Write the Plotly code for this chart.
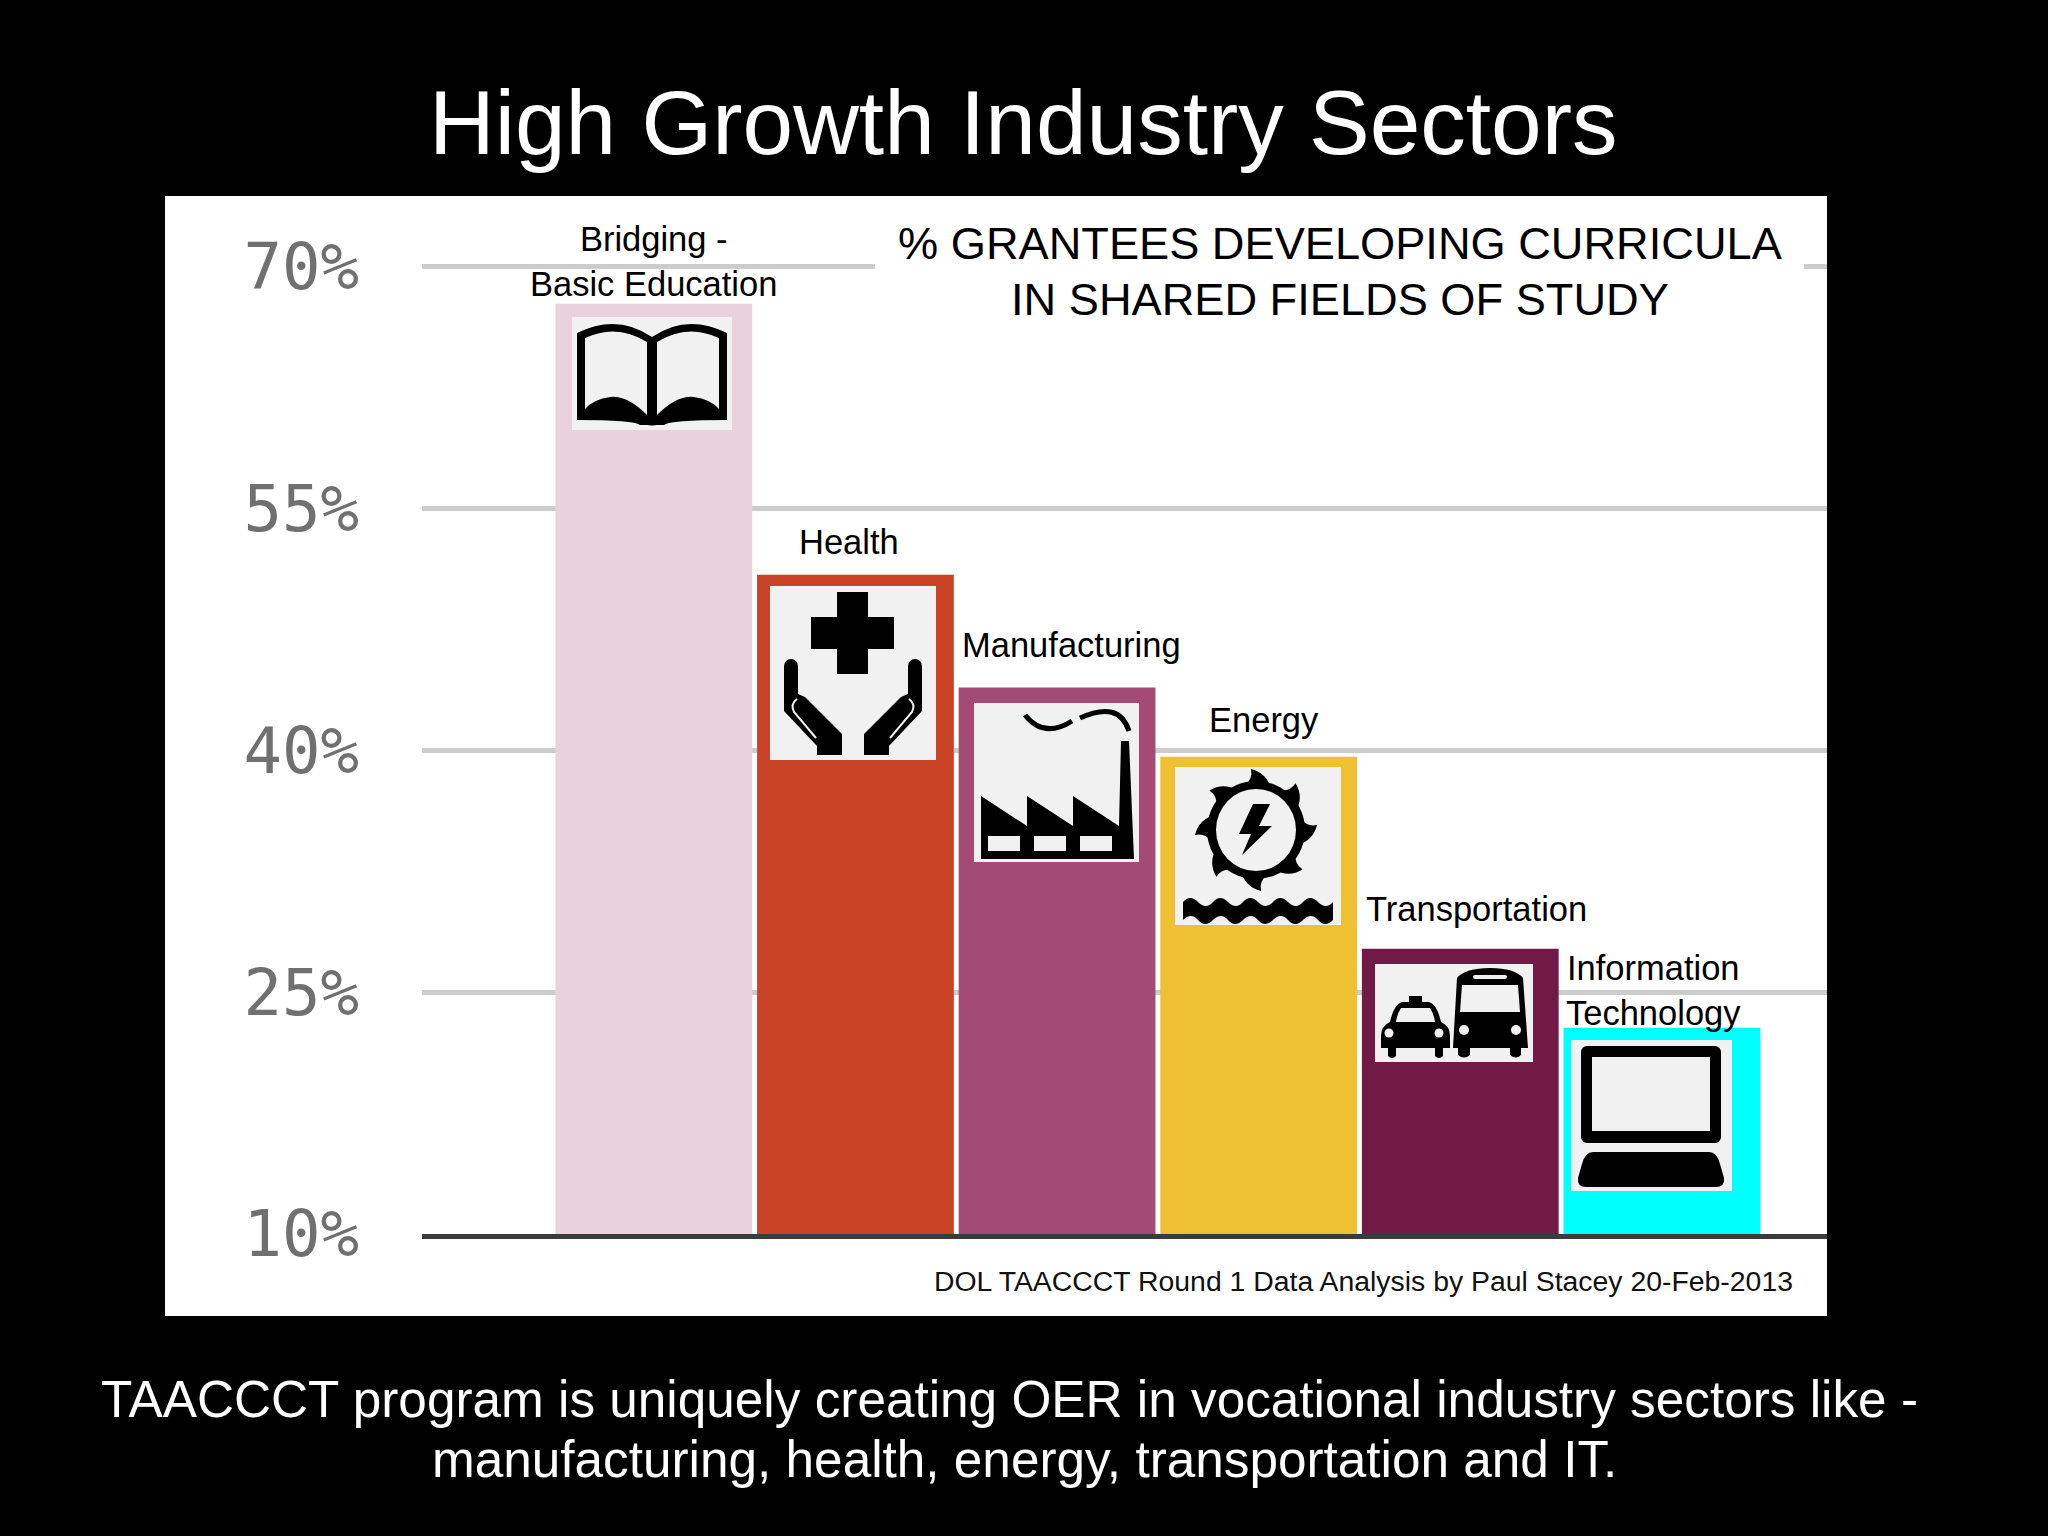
import base64
import plotly.graph_objects as go

# chart data
categories = ["Bridging - Basic Education", "Health", "Manufacturing", "Energy", "Transportation", "Information Technology"]
label_text = ["Bridging -<br>Basic Education", "Health", "Manufacturing", "Energy", "Transportation", "Information<br>Technology"]
percent_values = [67.7, 50.9, 43.9, 39.6, 27.7, 22.8]
tick_values = [10, 25, 40, 55, 70]
tick_labels = ["10%", "25%", "40%", "55%", "70%"]

title_text = "High Growth Industry Sectors"
chart_title = ["% GRANTEES DEVELOPING CURRICULA", "IN SHARED FIELDS OF STUDY"]
source_text = "DOL TAACCCT Round 1 Data Analysis by Paul Stacey 20-Feb-2013"
caption_text = ["TAACCCT program is uniquely creating OER in vocational industry sectors like -", "manufacturing, health, energy, transportation and IT."]

# styling
bar_colors = ["#E9D2DB", "#CB4327", "#A34A75", "#EFC032", "#721A46", "#00FFFF"]
label_dx = [0, -6, 14, 5, 16, -8]
label_dy = [-1, 12, 21, 16, 19, -6]

W, H = 2048, 1536
FONT = "Liberation Sans"
TILE = "#F1F1F2"

def px(x):
    return x / W

def py(y):
    return 1 - y / H

def mirror(width, body):
    return body + f'<g transform="translate({width},0) scale(-1,1)">{body}</g>'

# the pictograms on the bars, drawn in the pixel size of their tile
book = mirror(160, f'<path d="M5 16Q45 -4 80 20V108H68Q62 103 5 103Z"/><path fill="{TILE}" d="M13 21Q45 6 75 25V98Q55 78 38 80Q22 82 13 92Z"/>')
book = f'<path d="M66 103Q80 114 94 103Z"/>' + book

hand = mirror(166, f'<path d="M14 80A7 7 0 0 1 28 80V108L35 111L72 148V169H47V160L14 125Z"/><path fill="none" stroke="{TILE}" stroke-width="2" d="M27 113Q20 118 24 126L46 152"/>')
health = '<path d="M67 6H98V31H124V63H98V88H67V63H41V31H67Z"/>' + hand

windows = "".join(f'<rect fill="{TILE}" x="{x}" y="133" width="32" height="15"/>' for x in (14, 60, 106))
factory = ('<path d="M7 93L53 123V93L99 123V93L145 123L147 38H155L160 156H7Z"/>' + windows
           + '<path fill="none" stroke="#000" stroke-width="5" d="M51 12Q70 36 98 18M106 15Q145 -3 155 28"/>')

teeth = "".join(f'<path transform="rotate({a} 81 63)" d="M70 18Q78 12 76 2Q92 6 96 22Z"/>' for a in range(0, 360, 45))
top_edge = "T".join(f"{x} 135" for x in range(23, 159, 15))
bottom_edge = "T".join(f"{x} 153" for x in range(143, 7, -15))
waves = f'<path d="M8 135Q15 127 {top_edge}V153Q150 161 {bottom_edge}Z"/>'
energy = (teeth + '<ellipse cx="81" cy="63" rx="49" ry="49"/>'
          + f'<ellipse fill="{TILE}" cx="81" cy="63" rx="40" ry="41"/>'
          + f'<path d="M78 37L64 67H76L67 88L97 59H84L95 37Z"/>' + waves)

taxi = ('<path d="M34 38V32H47V38H54Q62 40 66 58Q75 62 75 72V84H68V92Q64 96 60 92V84H21V92Q17 96 13 92V84H6V72Q6 62 15 58Q19 40 27 38Z"/>'
        f'<path fill="{TILE}" d="M26 44H55Q59 50 60 58H21Q22 50 26 44Z"/>'
        f'<circle fill="{TILE}" cx="14" cy="69" r="4.5"/><circle fill="{TILE}" cx="64" cy="69" r="4.5"/>')
bus = ('<path d="M82 14Q90 4 115 4Q140 4 148 14L153 84H146V91Q141 96 135 91V84H95V91Q89 96 83 91V84H78Z"/>'
       f'<path fill="{TILE}" d="M87 21H143L145 48H85Z"/>'
       f'<rect fill="{TILE}" x="98" y="11" width="34" height="4" rx="2"/>'
       f'<circle fill="{TILE}" cx="89" cy="66" r="5"/><circle fill="{TILE}" cx="141" cy="66" r="5"/>')

computer = (f'<rect x="10" y="6" width="140" height="97" rx="6"/><rect fill="{TILE}" x="21" y="17" width="118" height="74"/>'
            '<path d="M22 112H138Q146 112 149 124L153 138Q154 147 145 147H15Q6 147 7 138L11 124Q14 112 22 112Z"/>')

# x, y, width, height of each tile on the page
icons = [
    (book, 572, 317, 160, 113),
    (health, 770, 586, 166, 174),
    (factory, 974, 703, 165, 159),
    (energy, 1175, 767, 166, 158),
    (taxi + bus, 1375, 964, 158, 98),
    (computer, 1571, 1040, 161, 151),
]

images = []
for body, x, y, w, h in icons:
    svg = (f'<svg xmlns="http://www.w3.org/2000/svg" viewBox="0 0 {w} {h}" width="{w}" height="{h}">'
           f'<rect width="{w}" height="{h}" fill="{TILE}"/>{body}</svg>')
    source = "data:image/svg+xml;base64," + base64.b64encode(svg.encode()).decode()
    images.append(dict(source=source, xref="paper", yref="paper", x=px(x), y=py(y), sizex=w / W, sizey=h / H,
                       xanchor="left", yanchor="top", sizing="stretch", layer="above"))

fig = go.Figure()
fig.add_trace(go.Bar(x=categories, y=[v - 10 for v in percent_values], base=10, marker=dict(color=bar_colors, line_width=0), width=0.976, hoverinfo="skip"))

annotations = []
for name, text, value, dx, dy in zip(categories, label_text, percent_values, label_dx, label_dy):
    annotations.append(dict(x=name, y=value, xref="x", yref="y", text=text, showarrow=False, xanchor="center", yanchor="bottom",
                            xshift=dx, yshift=dy, font=dict(family=FONT, size=34.5, color="#000000")))

def page_text(x, y, text, size, color, xanchor="center"):
    annotations.append(dict(x=px(x), y=py(y), xref="paper", yref="paper", text=text, showarrow=False, xanchor=xanchor, yanchor="middle",
                            font=dict(family=FONT, size=size, color=color)))

page_text(1340, 244, chart_title[0], 45.2, "#000000")
page_text(1340, 299, chart_title[1], 45.2, "#000000")
page_text(1795, 1281, source_text, 28.4, "#111111", "right")
page_text(1009, 1399, caption_text[0], 51.3, "#FFFFFF")
page_text(1024, 1459, caption_text[1], 51.3, "#FFFFFF")
page_text(1023, 122, title_text, 91, "#FFFFFF")

fig.update_layout(
    width=W, height=H, margin=dict(l=0, r=0, t=0, b=0, autoexpand=False),
    paper_bgcolor="#000000", plot_bgcolor="rgba(0,0,0,0)", showlegend=False,
    shapes=[dict(type="rect", xref="paper", yref="paper", x0=px(165), x1=px(1827), y0=py(1316), y1=py(196),
                 fillcolor="#FFFFFF", line_width=0, layer="below"),
            # the top grid line stops around the chart heading
            dict(type="rect", xref="paper", yref="paper", x0=px(875), x1=px(1804), y0=py(280), y1=py(250),
                 fillcolor="#FFFFFF", line_width=0, layer="above")],
    annotations=annotations, images=images,
    xaxis=dict(domain=[px(422), px(1827)], range=[-1.150, 5.819], showticklabels=False, ticks="", showgrid=False,
               showline=True, linecolor="#3B3B3B", linewidth=5, zeroline=False),
    yaxis=dict(domain=[py(1234), py(234)], range=[10, 72.03], tickvals=tick_values, ticktext=tick_labels, showgrid=True, gridcolor="#CCCCCC", gridwidth=5,
               zeroline=False, showline=False, ticks="", ticklabelstandoff=62,
               tickfont=dict(family="DejaVu Sans Mono", size=64, color="#707070")),
)

fig.write_html("out.html", config=dict(displayModeBar=False), post_script="document.body.style.margin='0';document.body.style.background='#000';")
